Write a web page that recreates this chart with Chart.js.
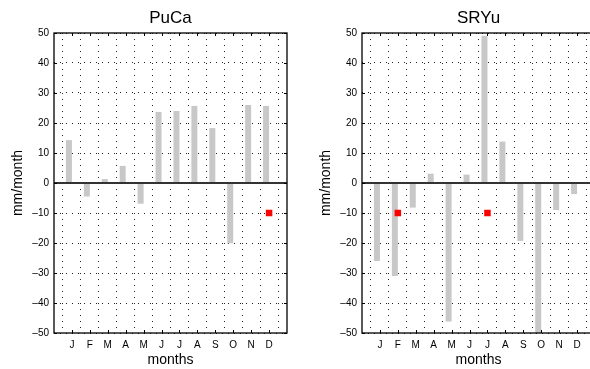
<!DOCTYPE html>
<html>
<head>
<meta charset="utf-8">
<script src="https://cdn.jsdelivr.net/npm/chart.js@4/dist/chart.umd.min.js"></script>
<style>
  html, body { margin: 0; padding: 0; background: #fff; }
  body { width: 590px; height: 369px; overflow: hidden; position: relative; }
  canvas { position: absolute; top: 0; }
  #c1 { left: 0px; }
  #c2 { left: 308px; }
</style>
</head>
<body>
<canvas id="c1" width="300" height="369"></canvas>
<canvas id="c2" width="300" height="369"></canvas>
<script>
// ---- data ----
const months = ['J','F','M','A','M','J','J','A','S','O','N','D'];
const yTicks = [-50, -40, -30, -20, -10, 0, 10, 20, 30, 40, 50];

const pucaTitle = 'PuCa';
const pucaValues = [14.3, -4.5, 1.3, 5.7, -6.9, 23.7, 24.0, 25.7, 18.3, -20.1, 26.0, 25.7];
const pucaMarkers = [null, null, null, null, null, null, null, null, null, null, null, -10];

const sryuTitle = 'SRYu';
const sryuValues = [-26.0, -31.0, -8.2, 3.1, -46.2, 2.8, 49.1, 13.8, -19.3, -50.0, -9.0, -3.7];
const sryuMarkers = [null, -10, null, null, null, null, -10, null, null, null, null, null];

const yLabel = 'mm/month';
const xLabel = 'months';

// ---- helpers ----
const pad = arr => [null, ...arr, null];
const FONT = '"Liberation Sans", Arial, Helvetica, sans-serif';

const boxPlugin = {
  id: 'box',
  afterDatasetsDraw(chart) {
    const { ctx, chartArea: a, scales } = chart;
    const y0 = scales.y.getPixelForValue(0);
    ctx.save();
    // zero line
    ctx.strokeStyle = '#333';
    ctx.lineWidth = 1.8;
    ctx.beginPath();
    ctx.moveTo(a.left, y0);
    ctx.lineTo(a.right, y0);
    ctx.stroke();
    // box
    ctx.strokeStyle = '#000';
    ctx.lineWidth = 1.3;
    ctx.strokeRect(a.left, a.top, a.right - a.left, a.bottom - a.top);
    // inward ticks
    ctx.lineWidth = 1;
    ctx.beginPath();
    const xs = scales.x;
    for (let i = 1; i <= months.length; i++) {
      const px = Math.round(xs.getPixelForValue(i)) + 0.5;
      ctx.moveTo(px, a.top); ctx.lineTo(px, a.top + 3);
      ctx.moveTo(px, a.bottom); ctx.lineTo(px, a.bottom - 3);
    }
    for (const v of yTicks) {
      const py = Math.round(scales.y.getPixelForValue(v)) + 0.5;
      ctx.moveTo(a.left, py); ctx.lineTo(a.left + 3, py);
      ctx.moveTo(a.right, py); ctx.lineTo(a.right - 3, py);
    }
    ctx.stroke();
    ctx.restore();
  }
};

function makeChart(id, title, values, markers) {
  return new Chart(document.getElementById(id), {
    data: {
      labels: pad(months).map(v => v === null ? '' : v),
      datasets: [
        {
          type: 'line',
          data: pad(markers),
          showLine: false,
          pointStyle: 'rect',
          pointRadius: 4.6,
          pointBackgroundColor: '#ff0000',
          pointBorderColor: '#ff0000',
          pointBorderWidth: 0
        },
        {
          type: 'bar',
          data: pad(values),
          backgroundColor: '#c8c8c8',
          borderWidth: 0,
          categoryPercentage: 0.67,
          barPercentage: 1.0
        },
        {
          type: 'bar',
          data: pad(months.map(() => null)),
          backgroundColor: '#c8c8c8',
          borderWidth: 0,
          categoryPercentage: 0.67,
          barPercentage: 1.0
        }
      ]
    },
    options: {
      responsive: false,
      animation: false,
      events: [],
      layout: { padding: { left: 0, right: 13, top: 0, bottom: 0 } },
      plugins: {
        legend: { display: false },
        tooltip: { enabled: false },
        title: {
          display: true,
          text: title,
          fullSize: false,
          color: '#000',
          font: { family: FONT, size: 17, weight: 'normal', lineHeight: 1.2 },
          padding: { top: 8.5, bottom: 4.1 }
        }
      },
      scales: {
        x: {
          type: 'category',
          offset: false,
          afterFit: s => { s.height = 36; },
          grid: { color: '#222', lineWidth: 1, drawTicks: false },
          border: { display: false, dash: [1, 5] },
          ticks: {
            autoSkip: false, maxRotation: 0, minRotation: 0,
            padding: 6, color: '#000',
            font: { family: FONT, size: 10 }
          },
          title: {
            display: true, text: xLabel, color: '#000',
            font: { family: FONT, size: 14, lineHeight: 1.2 },
            padding: { top: 0, bottom: 0 }
          }
        },
        y: {
          min: -50, max: 50,
          afterFit: s => { s.width = 54; },
          afterBuildTicks: s => { s.ticks = yTicks.map(v => ({ value: v })); },
          grid: { color: '#222', lineWidth: 1, drawTicks: false },
          border: { display: false, dash: [1, 5] },
          ticks: {
            padding: 5, color: '#000',
            font: { family: FONT, size: 10 },
            callback: v => String(v).replace('-', '\u2013')
          },
          title: {
            display: true, text: yLabel, color: '#000',
            font: { family: FONT, size: 14, lineHeight: 1.2 },
            padding: { top: 10, bottom: 0 }
          }
        }
      }
    },
    plugins: [boxPlugin]
  });
}

makeChart('c1', pucaTitle, pucaValues, pucaMarkers);
makeChart('c2', sryuTitle, sryuValues, sryuMarkers);
</script>
</body>
</html>
